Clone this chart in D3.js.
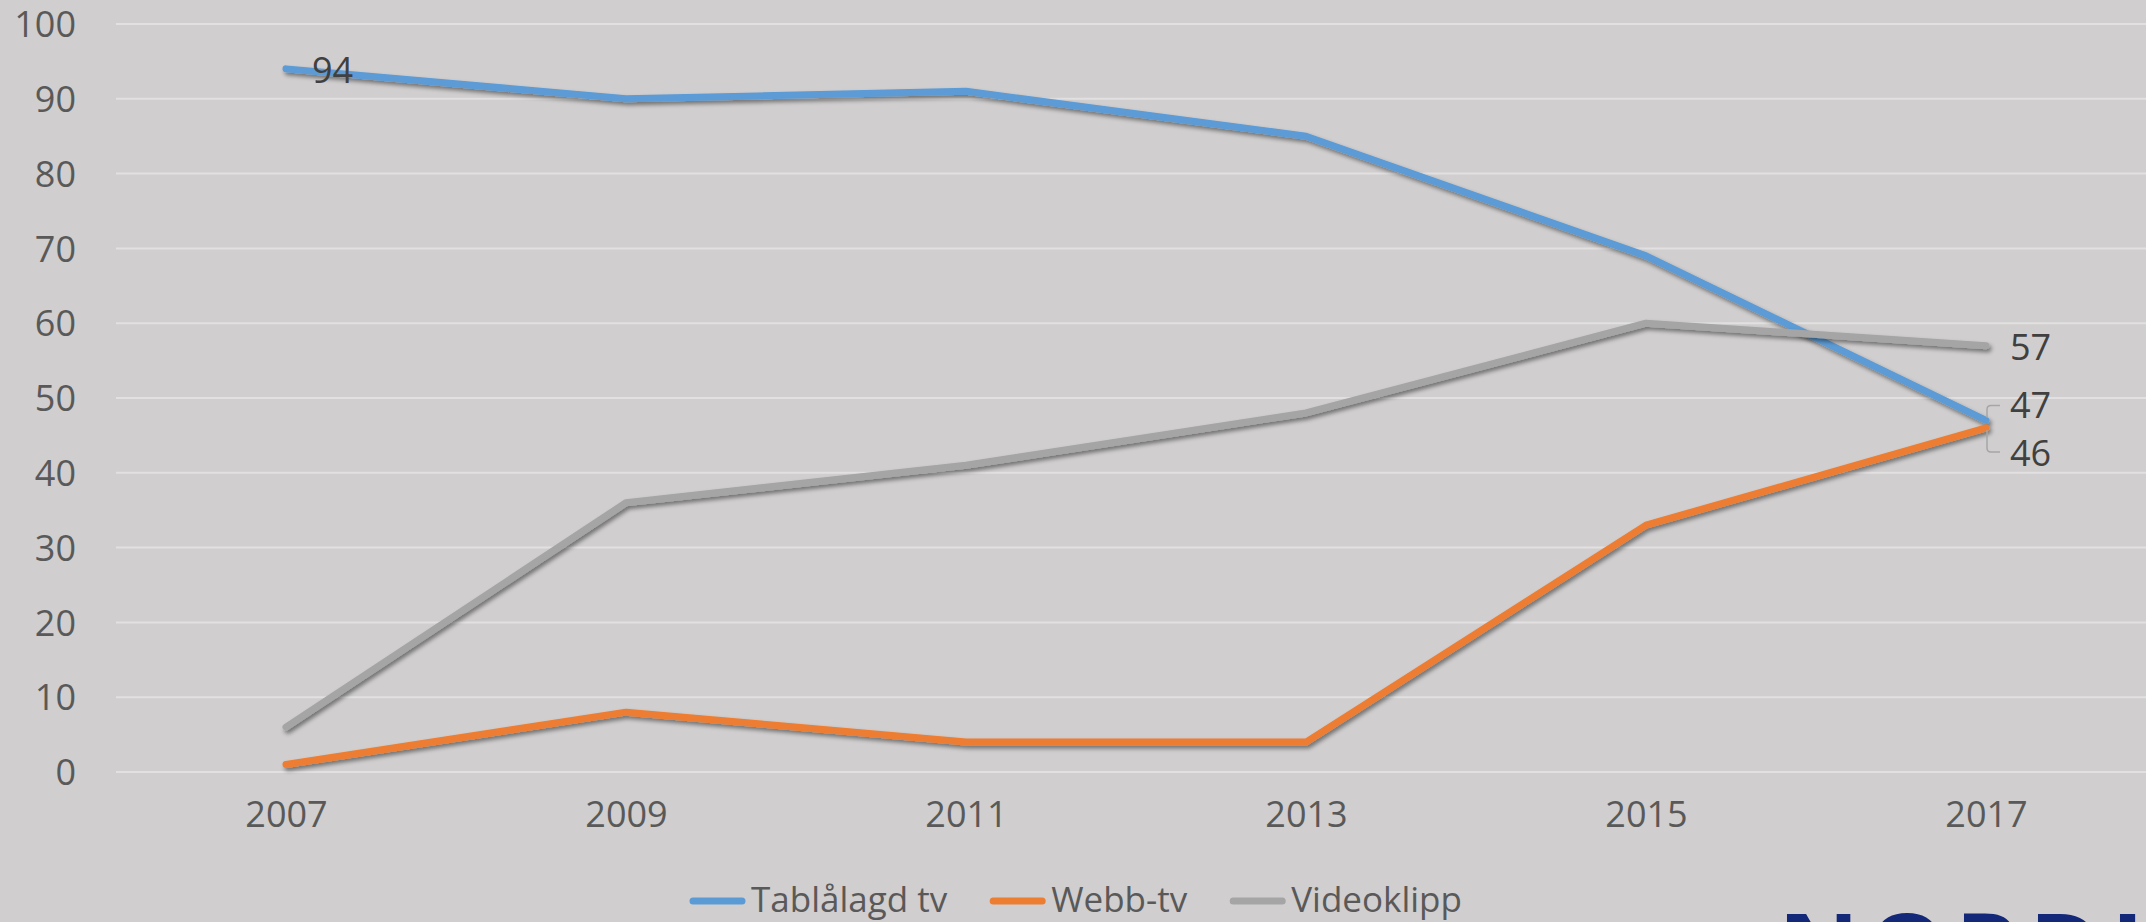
<!DOCTYPE html>
<html><head><meta charset="utf-8">
<script src="https://cdn.jsdelivr.net/npm/d3@7"></script>
<style>
html,body{margin:0;padding:0;background:#D0CECE;}
svg{display:block;}
text{font-family:"Open Sans",sans-serif;}
</style></head>
<body>
<svg id="c" width="2146" height="922"></svg>
<script>
const years = ["2007","2009","2011","2013","2015","2017"];
const tablalagd = [94, 90, 91, 85, 69, 47];
const webbtv = [1, 8, 4, 4, 33, 46];
const videoklipp = [6, 36, 41, 48, 60, 57];
const seriesNames = ["Tablålagd tv","Webb-tv","Videoklipp"];
const yTicks = [0,10,20,30,40,50,60,70,80,90,100];

const W = 2146, H = 922;
const svg = d3.select("#c");
svg.append("rect").attr("width",W).attr("height",H).attr("fill","#D0CECE");

const defs = svg.append("defs");
const f = defs.append("filter").attr("id","sh").attr("x","-10%").attr("y","-10%").attr("width","120%").attr("height","130%");
f.append("feDropShadow").attr("dx",2).attr("dy",3).attr("stdDeviation",2.2).attr("flood-color","#000").attr("flood-opacity",0.45);

const x = d3.scalePoint().domain(years).range([116, 2156]).padding(0.5);
const y = d3.scaleLinear().domain([0,100]).range([772, 24]);

// grid
svg.append("g").selectAll("line").data(yTicks).join("line")
  .attr("x1",116).attr("x2",W).attr("y1",d=>y(d)).attr("y2",d=>y(d))
  .attr("stroke","#E2E0E0").attr("stroke-width",2);

// y axis labels
const yAxis = d3.axisLeft(y).tickValues(yTicks).tickSize(0).tickPadding(0);
const gy = svg.append("g").attr("transform","translate(76,0)").call(yAxis);
gy.select(".domain").remove();
gy.selectAll("text").attr("font-size",36).attr("fill","#595959").attr("font-family","Open Sans").attr("dy","0.35em");

// x axis labels
const xAxis = d3.axisBottom(x).tickSize(0).tickPadding(0);
const gx = svg.append("g").attr("transform","translate(0,800)").call(xAxis);
gx.select(".domain").remove();
gx.selectAll("text").attr("font-size",36).attr("fill","#595959").attr("font-family","Open Sans").attr("dy","0.75em");

const colors = ["#5B9BD5","#ED7D31","#A5A5A5"];
const data = [tablalagd, webbtv, videoklipp];
const line = d3.line().x((d,i)=>x(years[i])).y(d=>y(d));

data.forEach((s,k)=>{
  svg.append("path").datum(s).attr("d",line).attr("fill","none")
    .attr("stroke",colors[k]).attr("stroke-width",7)
    .attr("stroke-linecap","round").attr("stroke-linejoin","round")
    .attr("filter","url(#sh)");
});

// data labels
const lab = svg.append("g").attr("font-size",36).attr("fill","#404040");
lab.append("text").attr("x",x(years[0])+26).attr("y",y(tablalagd[0])+2).attr("dy","0.35em").text(tablalagd[0]);
const last = years.length-1;
const lx = x(years[last]);
lab.append("text").attr("x",lx+24).attr("y",y(videoklipp[last])+2).attr("dy","0.35em").text(videoklipp[last]);
lab.append("text").attr("x",lx+24).attr("y",y(tablalagd[last])-15).attr("dy","0.35em").text(tablalagd[last]);
lab.append("text").attr("x",lx+24).attr("y",y(webbtv[last])+25).attr("dy","0.35em").text(webbtv[last]);

// leader lines
const ty = y(tablalagd[last]), wy = y(webbtv[last]);
svg.append("path")
  .attr("d",`M${lx+14},${ty-15} L${lx+5},${ty-15} Q${lx+1},${ty-15} ${lx+1},${ty-11} L${lx+1},${ty-3}`)
  .attr("fill","none").attr("stroke","#A6A6A6").attr("stroke-width",1.5);
svg.append("path")
  .attr("d",`M${lx+1},${wy+2} L${lx+1},${wy+20} Q${lx+1},${wy+24} ${lx+5},${wy+24} L${lx+14},${wy+24}`)
  .attr("fill","none").attr("stroke","#A6A6A6").attr("stroke-width",1.5);

// legend
const leg = svg.append("g");
let cx = 690;
seriesNames.forEach((n,k)=>{
  leg.append("line").attr("x1",cx+3).attr("x2",cx+52).attr("y1",901).attr("y2",901)
    .attr("stroke",colors[k]).attr("stroke-width",7).attr("stroke-linecap","round");
  const t = leg.append("text").attr("x",cx+61).attr("y",912).attr("font-size",35).attr("fill","#595959").text(n);
  cx = cx + 61 + t.node().getComputedTextLength() + 43;
});

// logo fragment
svg.append("text").attr("x",1778).attr("y",986).attr("font-family","Liberation Sans, Arial, sans-serif")
  .attr("font-weight","bold").attr("font-size",100).attr("letter-spacing",8).attr("fill","#14287A").text("NORDICOM");
</script>
</body></html>
